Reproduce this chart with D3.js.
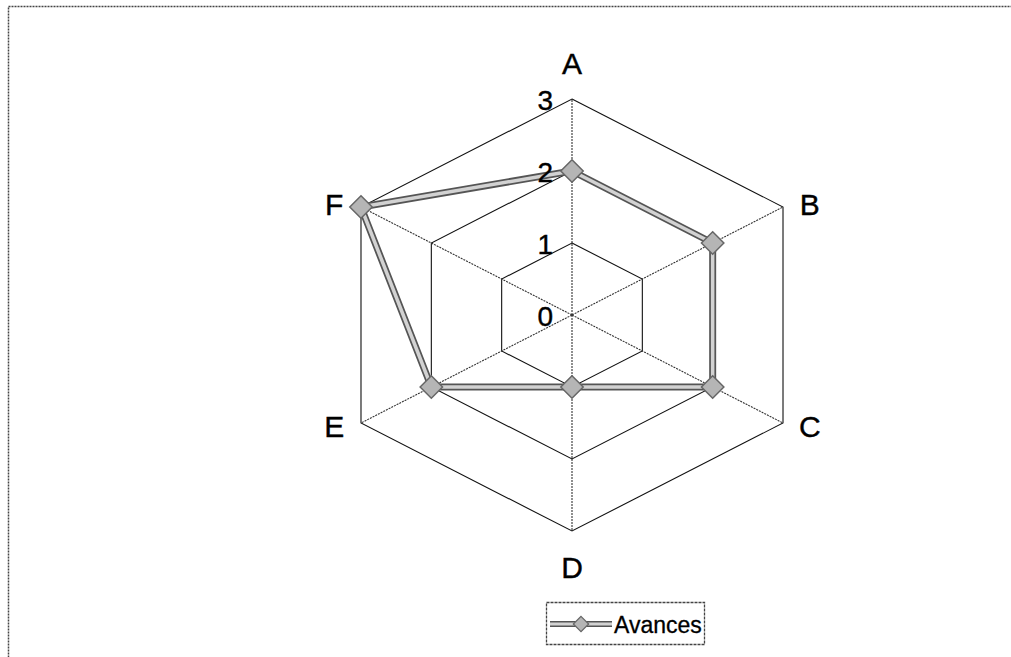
<!DOCTYPE html>
<html>
<head>
<meta charset="utf-8">
<script src="https://cdn.jsdelivr.net/npm/d3@7"></script>
<style>
  body { margin: 0; background: #fff; }
  svg { display: block; font-family: "Liberation Sans", Arial, sans-serif; }
</style>
</head>
<body>
<svg id="chart" width="1011" height="657"></svg>
<script>
// data
const axes = ["A", "B", "C", "D", "E", "F"];
const avances = [2, 2, 2, 1, 2, 3];
const levels = [0, 1, 2, 3];
const seriesName = "Avances";

const svg = d3.select("#chart");
const cx = 572, cy = 315;
const sx = 1.128; // the picture is stretched horizontally

// radial scale: value -> pixels
const r = d3.scaleLinear().domain([0, 3]).range([0, 216]);
const angle = d3.scalePoint().domain(axes).range([0, 2 * Math.PI * 5 / 6]);

function pt(axis, v) {
  const a = angle(axis);
  return [cx + r(v) * Math.sin(a) * sx, cy - r(v) * Math.cos(a)];
}

// outer frame (dotted scan border)
svg.append("rect")
  .attr("x", 8.5).attr("y", 6.5)
  .attr("width", 1010).attr("height", 700)
  .attr("fill", "none")
  .attr("stroke", "#444")
  .attr("stroke-width", 1.5)
  .attr("stroke-dasharray", "2,1");

// grid hexagons
const line = d3.line();
svg.append("g").selectAll("path")
  .data(levels.filter(l => l > 0))
  .join("path")
  .attr("d", l => line(axes.map(a => pt(a, l))) + "Z")
  .attr("fill", "none")
  .attr("stroke", "#111")
  .attr("stroke-width", 1.1);

// spokes
svg.append("g").selectAll("line")
  .data(axes)
  .join("line")
  .attr("x1", cx).attr("y1", cy)
  .attr("x2", a => pt(a, 3)[0])
  .attr("y2", a => pt(a, 3)[1])
  .attr("stroke", "#333")
  .attr("stroke-width", 1.1)
  .attr("stroke-dasharray", "2,1");

// axis labels, placed just outside the outer vertices
svg.append("g").selectAll("text")
  .data(axes)
  .join("text")
  .attr("x", a => pt(a, 3)[0] + Math.sin(angle(a)) * 31)
  .attr("y", a => {
    const c = Math.cos(angle(a));
    return pt(a, 3)[1] - c * (Math.abs(c) > 0.9 ? 36 : 6);
  })
  .attr("text-anchor", "middle")
  .attr("dominant-baseline", "central")
  .attr("font-size", 30)
  .attr("fill", "#000")
  .attr("stroke", "#000")
  .attr("stroke-width", 0.4)
  .text(a => a);

// series: a double line (dark edges, light core)
const pts = axes.map((a, i) => pt(a, avances[i]));
const series = svg.append("g");
series.append("path")
  .attr("d", line(pts) + "Z")
  .attr("fill", "none")
  .attr("stroke", "#555")
  .attr("stroke-width", 7)
  .attr("stroke-linejoin", "round");
series.append("path")
  .attr("d", line(pts) + "Z")
  .attr("fill", "none")
  .attr("stroke", "#d2d2d2")
  .attr("stroke-width", 3.5)
  .attr("stroke-linejoin", "round");

const diamond = d3.symbol().type(d3.symbolDiamond2).size(320);
series.selectAll(".mk")
  .data(pts)
  .join("path")
  .attr("class", "mk")
  .attr("transform", d => `translate(${d[0]},${d[1]})`)
  .attr("d", diamond)
  .attr("fill", "#b5b5b5")
  .attr("stroke", "#666")
  .attr("stroke-width", 1.5);

// tick labels (drawn over the series, as in the picture)
svg.append("g").selectAll("text")
  .data(levels)
  .join("text")
  .attr("x", cx - 19)
  .attr("y", l => cy - r(l) + 1)
  .attr("text-anchor", "end")
  .attr("dominant-baseline", "central")
  .attr("font-size", 28)
  .attr("fill", "#000")
  .attr("stroke", "#000")
  .attr("stroke-width", 0.4)
  .text(l => l);

// legend
const lg = svg.append("g");
lg.append("rect")
  .attr("x", 546.5).attr("y", 602.5)
  .attr("width", 158).attr("height", 42)
  .attr("fill", "#fff")
  .attr("stroke", "#444")
  .attr("stroke-width", 1.3)
  .attr("stroke-dasharray", "3,1");
lg.append("line")
  .attr("x1", 550).attr("x2", 612).attr("y1", 624).attr("y2", 624)
  .attr("stroke", "#555").attr("stroke-width", 6);
lg.append("line")
  .attr("x1", 550).attr("x2", 612).attr("y1", 624).attr("y2", 624)
  .attr("stroke", "#d2d2d2").attr("stroke-width", 3);
lg.append("path")
  .attr("transform", "translate(581,624)")
  .attr("d", d3.symbol().type(d3.symbolDiamond2).size(150))
  .attr("fill", "#b5b5b5")
  .attr("stroke", "#666")
  .attr("stroke-width", 1.2);
lg.append("text")
  .attr("x", 614).attr("y", 625)
  .attr("dominant-baseline", "central")
  .attr("font-size", 23)
  .attr("fill", "#000")
  .attr("stroke", "#000")
  .attr("stroke-width", 0.3)
  .text(seriesName);
</script>
</body>
</html>
